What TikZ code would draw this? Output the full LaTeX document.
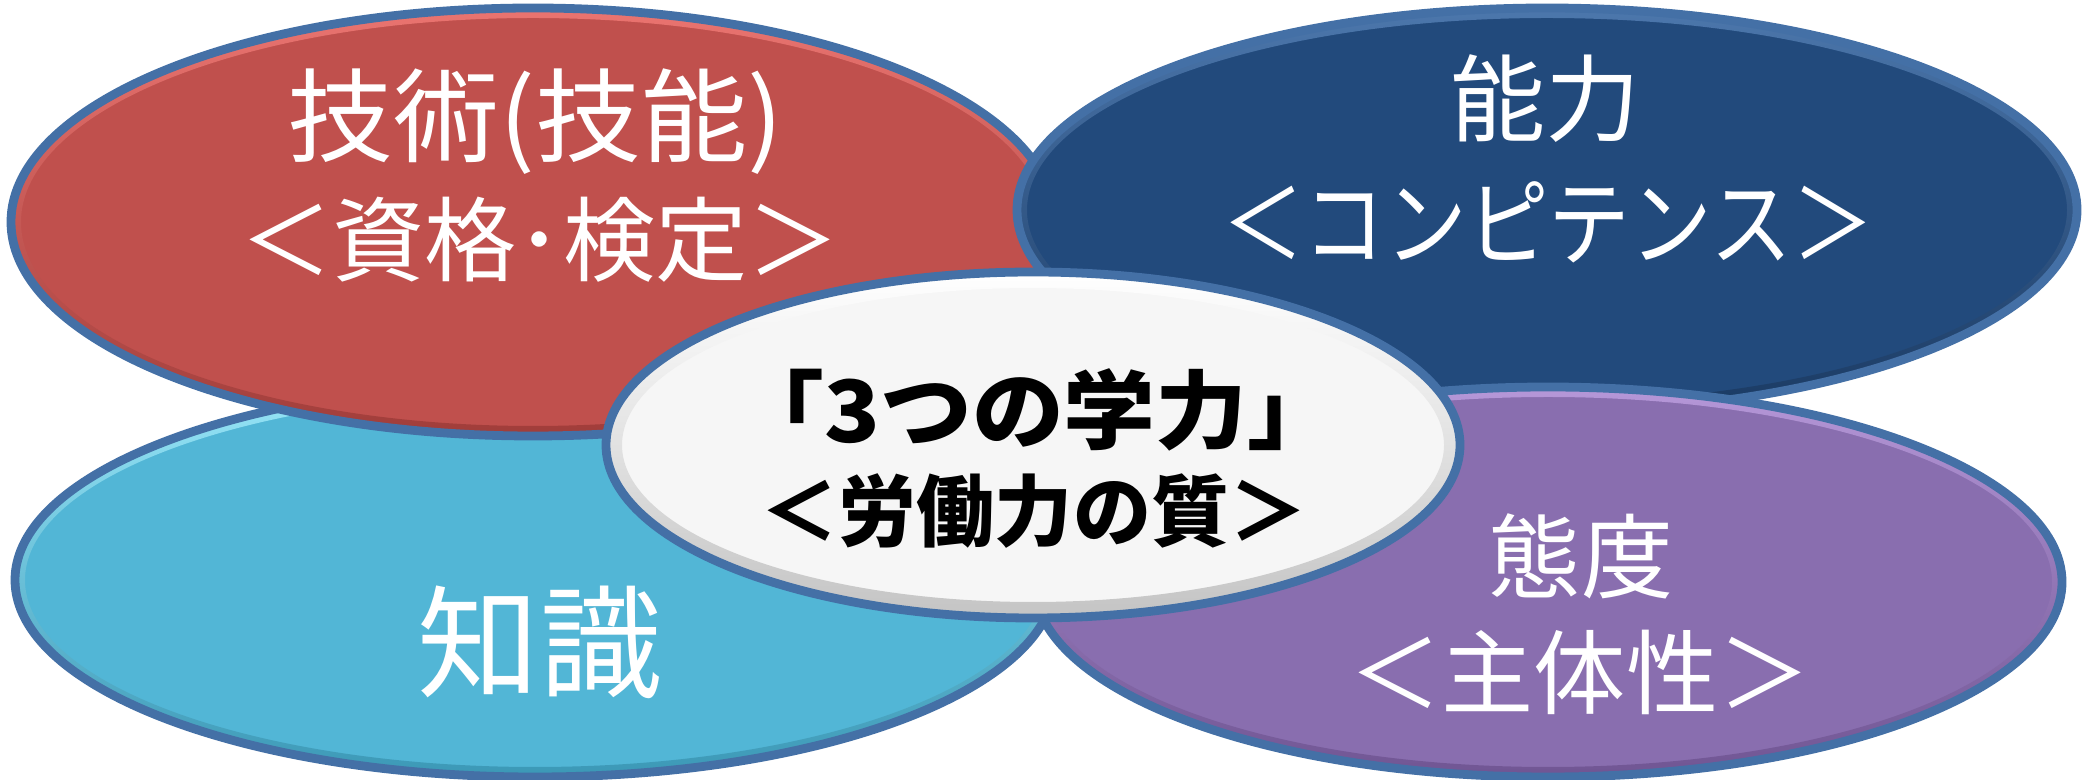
\documentclass[tikz,border=0pt]{standalone}
\usepackage{fontspec}
\newfontfamily\jp{Noto Sans CJK JP}
\definecolor{rimline}{HTML}{4470A6}
\definecolor{redbase}{HTML}{C0504D}
\definecolor{redlight}{HTML}{EA7470}
\definecolor{reddark}{HTML}{A03D3A}
\definecolor{bluebase}{HTML}{224A7C}
\definecolor{bluelight}{HTML}{4C77AC}
\definecolor{bluedark}{HTML}{1A3A63}
\definecolor{cyanbase}{HTML}{52B6D6}
\definecolor{cyanlight}{HTML}{98E6F8}
\definecolor{cyandark}{HTML}{3B98B6}
\definecolor{purpbase}{HTML}{896EAF}
\definecolor{purplight}{HTML}{B597D8}
\definecolor{purpdark}{HTML}{705593}
\definecolor{whitebase}{HTML}{F6F6F6}
\definecolor{whitedark}{HTML}{C4C4C4}
\newcommand\bevelell[8]{%
  \fill[#5] (#1,#2) ellipse [x radius=#3, y radius=#4];
  \shade[even odd rule, top color=#6, middle color=#5, bottom color=#7]
    (#1,#2) ellipse [x radius=#3, y radius=#4]
    (#1,#2) ellipse [x radius=#3-#8, y radius=#4-#8];
  \draw[rimline, line width=2.5] (#1,#2) ellipse [x radius=#3, y radius=#4];
}
\begin{document}
\begin{tikzpicture}[x=0.01cm,y=-0.01cm,
  wlbl/.style={text=white, inner sep=0, font=\jp\fontsize{26.2}{30}\selectfont},
  blbl/.style={text=black, inner sep=0, font=\jp\bfseries\fontsize{22.2}{26}\selectfont}]
\useasboundingbox (0,0) rectangle (2085,780);
\fill[white] (0,0) rectangle (2085,780);
% ellipses (back to front)
\bevelell{535}{580}{520}{197}{cyanbase}{cyanlight}{cyandark}{10}
\bevelell{533}{222}{522}{214}{redbase}{redlight}{reddark}{10}
\bevelell{1547}{210}{530}{202}{bluebase}{bluelight}{bluedark}{10}
\bevelell{1548}{582}{514}{195}{purpbase}{purplight}{purpdark}{10}
\bevelell{1033}{445}{427}{173}{whitebase}{white}{whitedark}{16}
% texts
\node[wlbl, font=\jp\fontsize{29}{32}\selectfont] (redA) at (535,122) {\scalebox{1.04}[1]{技術(技能)}};
\node[wlbl] (redB) at (540,240) {＜資格･検定＞};
\node[wlbl, font=\jp\fontsize{27}{30}\selectfont] (blueA) at (1545,99) {能力};
\node[wlbl, font=\jp\fontsize{27}{30}\selectfont] (blueB) at (1548,222) {\scalebox{0.86}[1]{＜コンピテンス＞}};
\node[wlbl, font=\jp\fontsize{34.7}{38}\selectfont] (cyanA) at (540,642) {知識};
\node[wlbl] (purpA) at (1581,556) {態度};
\node[wlbl] (purpB) at (1580,672) {＜主体性＞};
\node[blbl, font=\jp\bfseries\fontsize{24.4}{28}\selectfont] (cenA) at (1036,410) {\scalebox{1.07}[1]{「3つの学力」}};
\node[blbl] (cenB) at (1034,511) {＜労働力の質＞};
\end{tikzpicture}
\end{document}
